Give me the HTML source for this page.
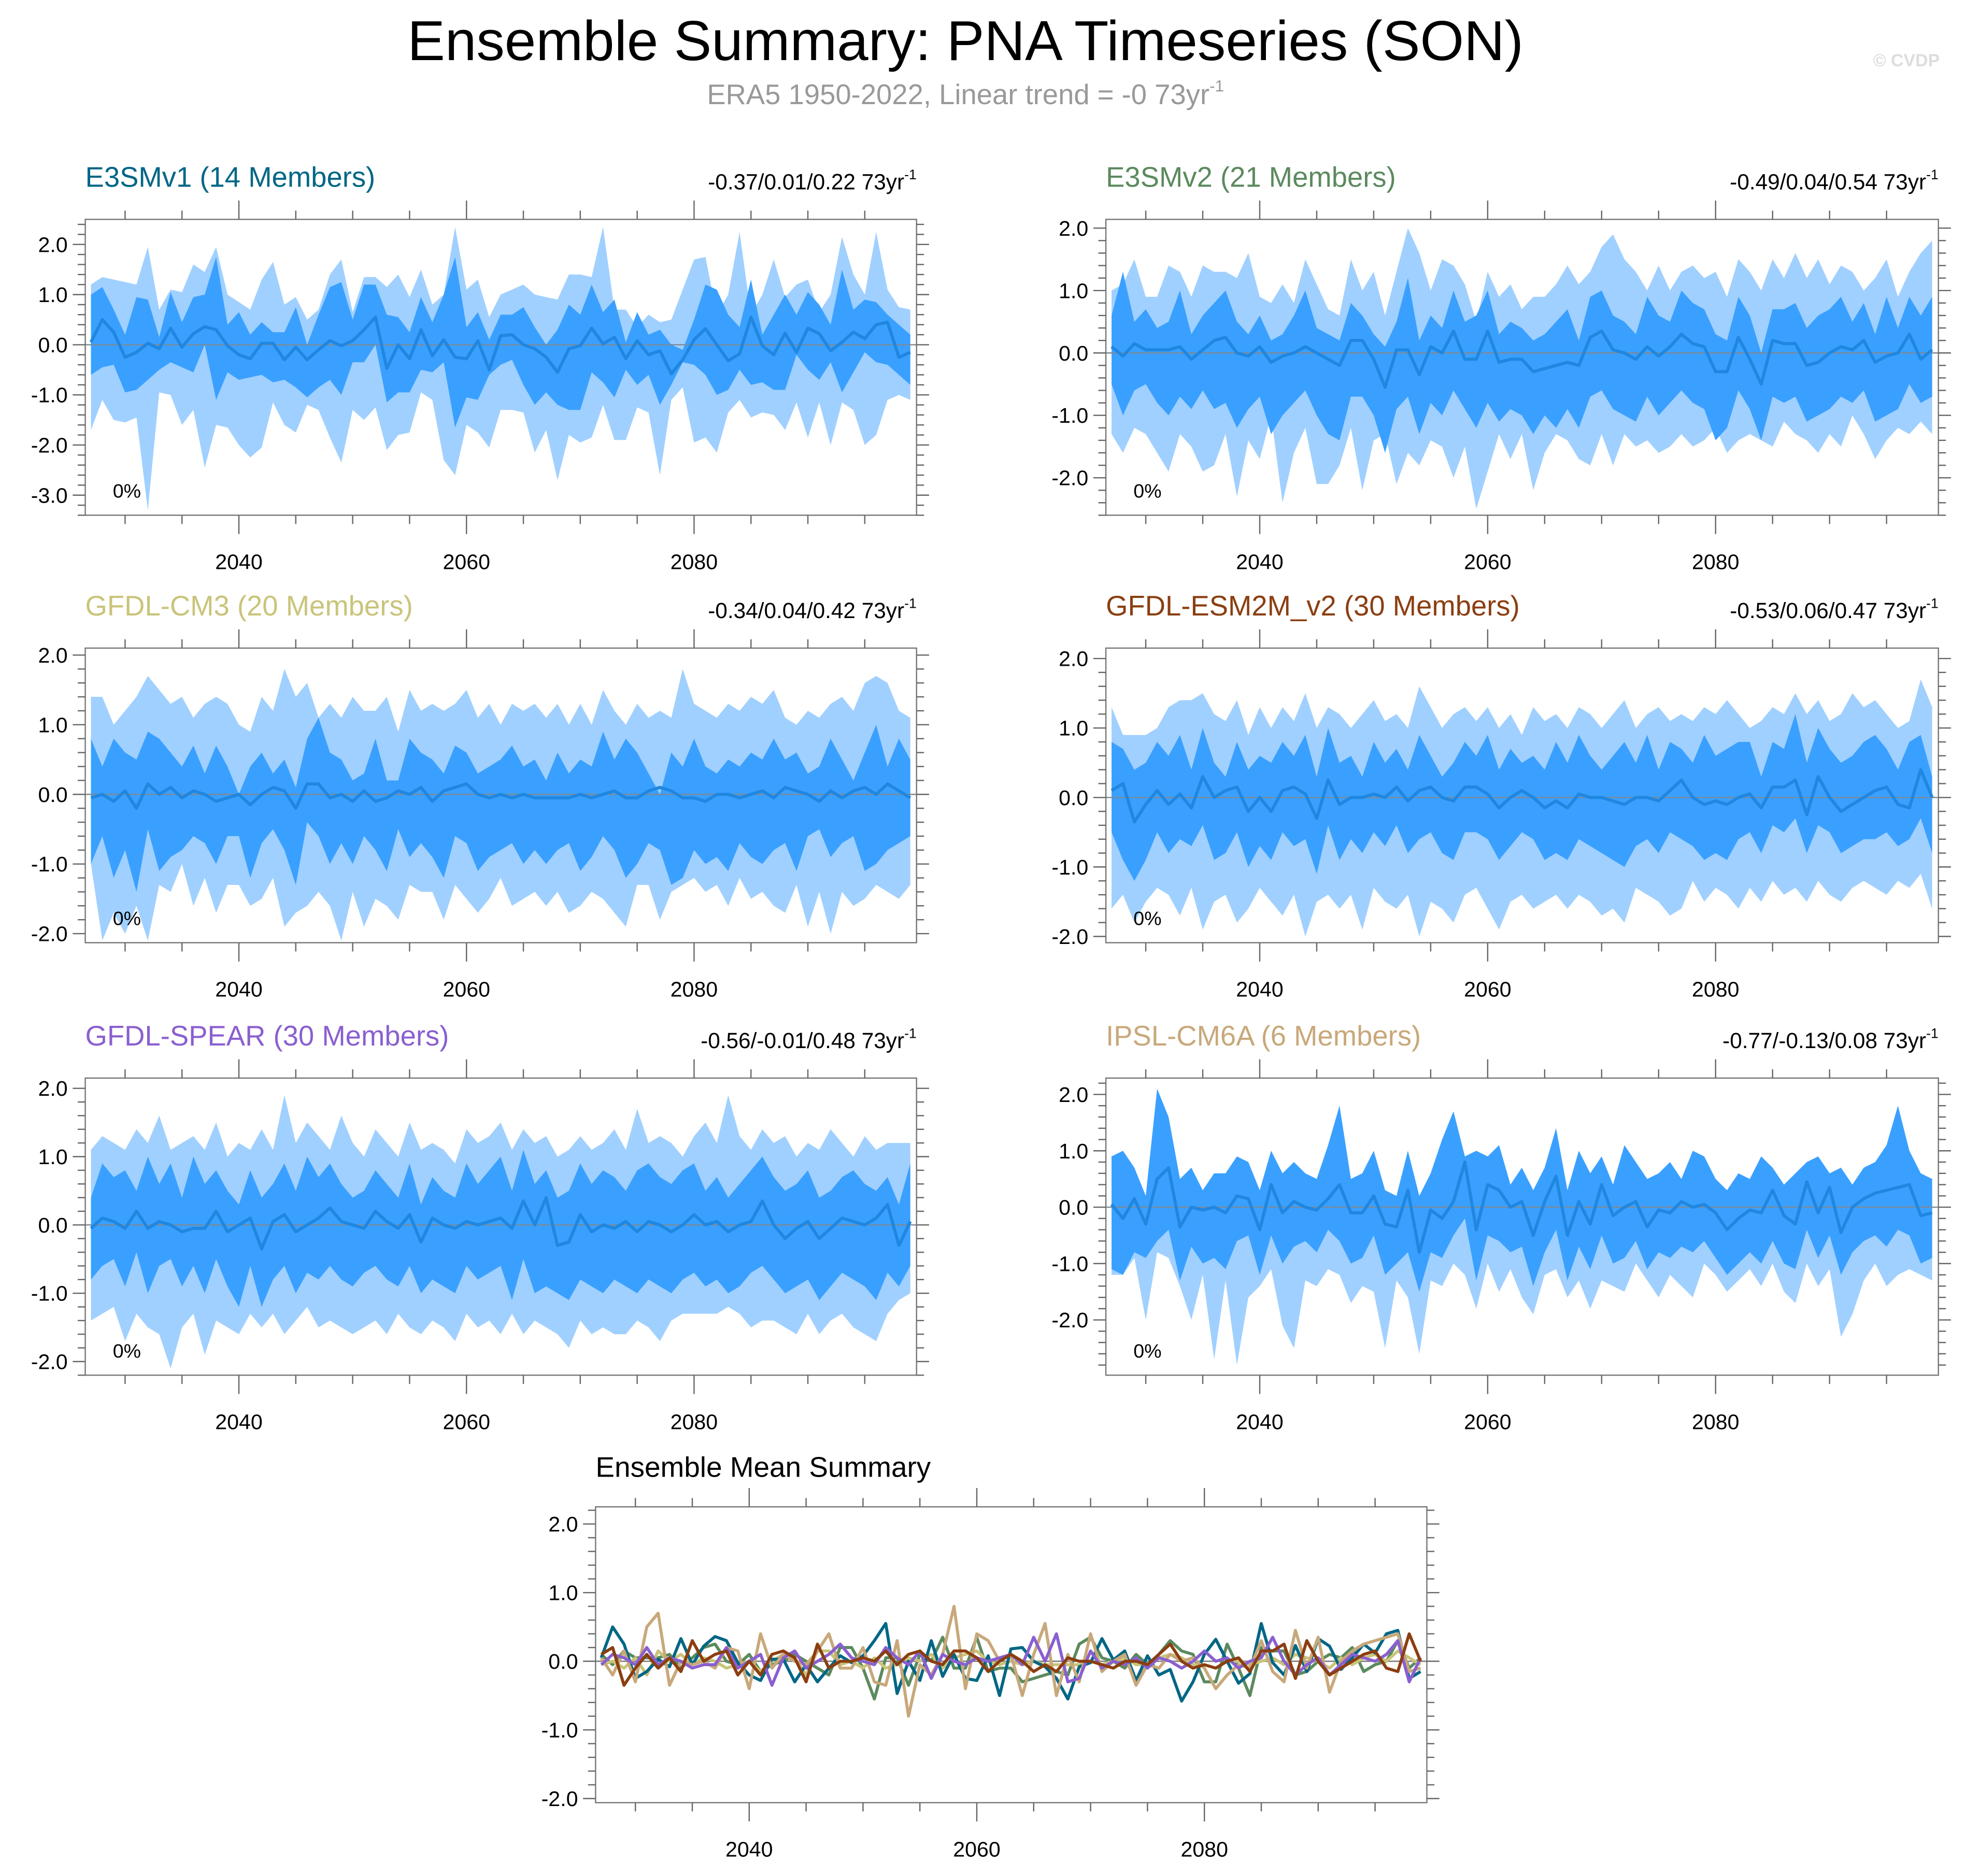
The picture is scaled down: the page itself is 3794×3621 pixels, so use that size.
<!DOCTYPE html>
<html><head><meta charset="utf-8"><style>
html,body{margin:0;padding:0;background:#fff;}
svg{display:block;font-family:"Liberation Sans",sans-serif;}
</style></head><body>
<svg id="chart" xmlns="http://www.w3.org/2000/svg" width="3794" height="3621" viewBox="0 0 1568 1496.5">
<rect x="0" y="0" width="1568" height="1496.5" fill="#fff"/>
<text x="770" y="48" font-size="45" text-anchor="middle" fill="#000">Ensemble Summary: PNA Timeseries (SON)</text>
<text x="770" y="83" font-size="22.5" text-anchor="middle" fill="#999">ERA5 1950-2022, Linear trend = -0 73yr<tspan dy="-10" font-size="13">-1</tspan></text>
<text x="1547" y="53" font-size="14" font-weight="bold" text-anchor="end" fill="#ddd">© CVDP</text>
<g id="panels"></g>
</svg>
<script>
const startYear = 2027;

const e3smv1Mean = [0.05,0.5,0.25,-0.25,-0.15,0.03,-0.08,0.33,-0.05,0.22, 0.36,0.3,-0.02,-0.2,-0.28,0.03,0.03,-0.3,-0.05,-0.3, -0.1,0.08,-0.02,0.08,0.3,0.55,-0.47,0.0,-0.28,0.3, -0.22,0.1,-0.25,-0.28,0.08,-0.5,0.18,0.2,0.0,-0.08, -0.25,-0.55,-0.08,-0.02,0.33,0.02,0.15,-0.28,0.08,-0.2, -0.12,-0.58,-0.3,0.1,0.32,0.0,-0.32,-0.18,0.55,-0.02, -0.2,0.23,-0.15,0.33,0.22,-0.12,0.05,0.25,0.12,0.4, 0.45,-0.25,-0.15];
const e3smv1Hi1 = [1.0,1.15,0.7,0.2,0.95,0.9,0.15,1.05,0.45,0.95, 1.0,1.75,0.4,0.65,0.2,0.45,0.25,0.25,0.75,0.0, 0.6,1.15,1.25,0.5,1.2,1.2,0.6,0.55,0.25,0.95, 0.45,1.0,1.75,0.35,0.65,0.1,0.6,0.6,0.75,0.35, 0.0,0.3,0.8,0.6,1.2,0.65,0.9,0.05,0.65,0.2, 0.3,0.0,-0.1,0.5,1.2,1.1,0.6,0.35,1.3,0.2, 0.6,1.0,0.6,1.05,0.8,0.4,1.5,0.7,0.9,0.85, 0.6,0.4,0.2];
const e3smv1Lo1 = [-0.6,-0.45,-0.4,-0.95,-0.9,-0.7,-0.5,-0.35,-0.45,-0.55, -0.0,-1.1,-0.55,-0.7,-0.65,-0.6,-0.75,-0.7,-0.85,-1.05, -0.85,-0.7,-1.0,-0.35,-0.35,0.0,-1.15,-0.95,-0.95,-0.5, -0.55,-0.35,-1.65,-1.05,-1.1,-0.6,-0.4,-0.3,-0.8,-1.2, -0.95,-1.2,-1.3,-1.3,-0.55,-0.75,-1.05,-0.5,-0.8,-0.6, -1.2,-0.8,-0.35,-0.4,-0.6,-1.0,-0.9,-0.5,-0.8,-0.75, -0.9,-0.9,-0.2,-0.5,-0.7,-0.35,-0.95,-0.55,-0.15,-0.35, -0.4,-0.6,-0.8];
const e3smv1Hi2 = [1.2,1.35,1.3,1.25,1.2,1.95,0.7,1.1,1.05,1.6, 1.45,1.95,1.0,0.85,0.7,1.3,1.65,0.8,0.95,0.5, 0.7,1.4,1.7,0.65,1.35,1.35,1.15,1.4,0.95,1.5, 0.8,1.0,2.35,1.1,1.3,0.55,1.0,1.1,1.2,1.0, 0.95,0.9,1.4,1.4,1.35,2.35,0.7,0.7,0.35,0.6, 0.45,0.5,1.1,1.7,1.75,0.6,1.0,2.25,0.6,1.0, 1.7,0.95,1.2,1.3,0.65,1.0,2.15,1.4,1.0,2.25, 1.1,0.75,0.7];
const e3smv1Lo2 = [-1.7,-1.1,-1.5,-1.55,-1.45,-3.3,-0.95,-1.0,-1.6,-1.3, -2.45,-1.6,-1.65,-2.0,-2.25,-2.05,-1.15,-1.6,-1.75,-1.2, -1.3,-1.85,-2.35,-1.3,-1.5,-1.25,-2.1,-1.8,-1.75,-0.95, -1.1,-2.3,-2.6,-1.6,-1.75,-2.05,-1.3,-1.3,-1.35,-2.15, -1.7,-2.7,-1.8,-1.95,-1.85,-1.2,-1.9,-1.9,-1.25,-1.35, -2.6,-1.1,-0.85,-1.95,-1.85,-2.15,-1.35,-1.1,-1.45,-1.35, -1.4,-1.7,-1.15,-1.85,-1.15,-2.0,-1.15,-1.3,-2.0,-1.8, -1.1,-1.0,-1.1];

const e3smv2Mean = [0.1,-0.05,0.15,0.05,0.05,0.05,0.1,-0.1,0.05,0.2, 0.25,0.0,-0.05,0.1,-0.15,-0.05,0.0,0.1,0.0,-0.1, -0.2,0.2,0.2,-0.1,-0.55,0.05,0.05,-0.35,0.1,0.0, 0.35,-0.1,-0.1,0.35,-0.15,-0.1,-0.1,-0.3,-0.25,-0.2, -0.15,-0.2,0.25,0.35,0.05,0.0,-0.1,0.1,-0.05,0.1, 0.3,0.15,0.1,-0.3,-0.3,0.25,-0.1,-0.5,0.2,0.15, 0.15,-0.2,-0.15,0.0,0.1,0.05,0.2,-0.15,-0.05,0.0, 0.3,-0.1,0.05];
const e3smv2Hi1 = [0.6,1.3,0.5,0.7,0.4,0.5,1.0,0.3,0.6,0.8, 1.0,0.5,0.3,0.6,0.2,0.3,0.6,1.0,0.4,0.3, 0.2,0.8,0.6,0.3,0.1,0.5,1.2,0.2,0.6,0.4, 1.0,0.5,0.6,1.0,0.3,0.5,0.4,0.2,0.3,0.5, 0.7,0.2,0.9,1.0,0.6,0.5,0.3,0.9,0.6,0.5, 1.0,0.8,0.7,0.3,0.2,0.9,0.6,0.0,0.7,0.7, 0.8,0.4,0.6,0.7,0.9,0.5,0.8,0.3,0.9,0.4, 0.9,0.6,0.9];
const e3smv2Lo1 = [-0.5,-1.0,-0.6,-0.5,-0.8,-1.0,-0.7,-0.9,-0.6,-0.9, -0.8,-1.2,-0.9,-0.7,-1.3,-1.0,-0.8,-0.6,-1.0,-1.3, -1.4,-0.7,-0.7,-1.0,-1.6,-0.9,-0.7,-1.3,-0.8,-1.0, -0.6,-0.9,-1.2,-0.8,-1.1,-0.9,-1.0,-1.3,-1.0,-1.2, -0.9,-1.2,-0.7,-0.6,-0.9,-1.0,-1.1,-0.7,-1.0,-0.8, -0.6,-0.8,-0.9,-1.4,-1.2,-0.6,-0.9,-1.4,-0.7,-0.8, -0.7,-1.1,-1.0,-0.9,-0.7,-0.8,-0.6,-1.1,-1.0,-0.9, -0.5,-0.8,-0.7];
const e3smv2Hi2 = [1.0,1.1,1.5,0.9,0.9,1.4,1.3,0.9,1.4,1.3, 1.3,1.2,1.6,0.9,0.8,1.1,0.8,1.5,1.1,0.7, 0.6,1.5,1.0,1.3,0.6,1.3,2.0,1.6,1.0,1.5, 1.4,1.1,0.5,1.3,0.9,1.1,0.7,0.9,0.9,1.1, 1.4,1.1,1.3,1.7,1.9,1.5,1.3,1.0,1.4,1.0, 1.3,1.4,1.2,1.3,0.9,1.5,1.3,1.0,1.5,1.2, 1.6,1.2,1.5,1.1,1.4,1.3,1.0,1.2,1.5,0.9, 1.3,1.6,1.8];
const e3smv2Lo2 = [-1.3,-1.6,-1.2,-1.3,-1.6,-1.9,-1.3,-1.5,-1.9,-1.8, -1.3,-2.3,-1.4,-1.7,-1.0,-2.4,-1.6,-1.2,-2.1,-2.1, -1.8,-1.2,-2.2,-1.4,-1.3,-2.1,-1.6,-1.8,-1.4,-1.5, -2.0,-1.5,-2.5,-1.9,-1.3,-1.7,-1.3,-2.2,-1.6,-1.3, -1.4,-1.7,-1.8,-1.3,-1.8,-1.3,-1.5,-1.4,-1.6,-1.5, -1.3,-1.5,-1.4,-1.2,-1.6,-1.4,-1.3,-1.4,-1.5,-1.1, -1.3,-1.4,-1.6,-1.3,-1.5,-1.0,-1.3,-1.7,-1.4,-1.2, -1.3,-1.1,-1.3];

const cm3Mean = [-0.05,0.0,-0.1,0.05,-0.2,0.15,0.0,0.1,-0.05,0.05, 0.0,-0.1,-0.05,0.0,-0.15,0.0,0.1,0.05,-0.2,0.15, 0.15,-0.05,0.0,-0.1,0.05,-0.1,-0.05,0.05,0.0,0.1, -0.1,0.05,0.1,0.15,0.0,-0.05,0.0,-0.05,0.0,-0.05, -0.05,-0.05,-0.05,0.0,-0.05,0.0,0.05,-0.05,-0.05,0.05, 0.1,0.05,-0.05,-0.05,-0.1,0.0,0.0,-0.05,0.0,0.05, -0.05,0.1,0.05,0.0,-0.1,0.05,-0.05,0.05,0.1,0.0, 0.15,0.05,-0.05];
const cm3Hi1 = [0.8,0.4,0.8,0.6,0.5,0.9,0.8,0.6,0.4,0.7, 0.3,0.7,0.4,0.0,0.4,0.6,0.3,0.5,0.1,0.8, 1.1,0.6,0.5,0.2,0.3,0.8,0.2,0.2,0.8,0.6, 0.5,0.3,0.7,0.6,0.3,0.4,0.5,0.7,0.4,0.5, 0.2,0.6,0.3,0.5,0.4,0.9,0.5,0.8,0.6,0.3, 0.0,0.6,0.4,0.8,0.4,0.3,0.5,0.4,0.6,0.5, 0.8,0.5,0.6,0.3,0.4,0.8,0.5,0.2,0.6,1.0, 0.4,0.8,0.5];
const cm3Lo1 = [-1.0,-0.6,-1.2,-0.8,-1.4,-0.5,-1.1,-0.9,-0.8,-0.6, -0.7,-1.0,-0.6,-0.6,-1.2,-0.7,-0.5,-0.8,-1.3,-0.4, -0.6,-1.0,-0.7,-1.0,-0.6,-0.8,-1.1,-0.5,-0.9,-0.7, -0.9,-1.2,-0.6,-0.7,-1.1,-0.9,-0.8,-0.7,-1.0,-0.8, -1.0,-0.8,-0.7,-1.1,-0.9,-0.6,-0.8,-1.2,-1.0,-0.7, -0.8,-1.3,-1.2,-0.8,-1.0,-0.9,-1.1,-0.7,-0.9,-1.0, -0.8,-0.7,-1.1,-0.6,-0.5,-0.9,-0.7,-0.6,-1.1,-1.0, -0.8,-0.7,-0.6];
const cm3Hi2 = [1.4,1.4,1.0,1.2,1.4,1.7,1.5,1.3,1.4,1.1, 1.3,1.4,1.3,1.0,0.9,1.4,1.2,1.8,1.4,1.6, 1.1,1.3,1.1,1.4,1.2,1.2,1.4,0.9,1.5,1.2, 1.3,1.2,1.3,1.5,1.1,1.3,1.0,1.3,1.2,1.3, 1.1,1.3,1.0,1.3,1.0,1.5,1.2,1.0,1.3,1.1, 1.2,1.1,1.8,1.3,1.2,1.1,1.3,1.2,1.4,1.3, 1.5,1.1,1.0,1.2,1.1,1.3,1.4,1.2,1.6,1.7, 1.6,1.2,1.1];
const cm3Lo2 = [-1.0,-2.1,-1.7,-2.0,-1.6,-2.1,-1.3,-1.4,-1.0,-1.6, -1.2,-1.7,-1.3,-1.3,-1.6,-1.5,-1.2,-1.9,-1.7,-1.6, -1.4,-1.6,-2.1,-1.4,-1.9,-1.5,-1.6,-1.8,-1.3,-1.4, -1.4,-1.8,-1.3,-1.5,-1.7,-1.5,-1.2,-1.6,-1.5,-1.4, -1.6,-1.4,-1.7,-1.6,-1.4,-1.5,-1.7,-1.9,-1.3,-1.3, -1.8,-1.4,-1.3,-1.2,-1.4,-1.3,-1.6,-1.2,-1.5,-1.4, -1.6,-1.7,-1.3,-1.9,-1.4,-2.0,-1.4,-1.6,-1.5,-1.3, -1.4,-1.5,-1.3];

const esm2mMean = [0.1,0.2,-0.35,-0.1,0.1,-0.1,0.05,-0.15,0.3,0.0, 0.1,0.15,-0.2,0.0,-0.2,0.1,0.15,0.05,-0.3,0.25, -0.1,0.0,0.0,0.05,0.0,0.15,-0.05,0.1,0.15,0.0, -0.05,0.15,0.15,0.05,-0.15,0.0,0.1,0.0,-0.15,-0.05, -0.15,0.05,0.0,0.0,-0.05,-0.1,0.0,0.0,-0.05,0.1, 0.25,0.0,-0.1,-0.05,-0.1,0.0,0.05,-0.15,0.15,0.15, 0.25,-0.25,0.3,0.0,-0.2,-0.1,0.0,0.1,0.15,-0.1, -0.15,0.4,0.0];
const esm2mHi1 = [0.8,0.7,0.4,0.5,0.8,0.6,0.9,0.4,1.0,0.5, 0.3,0.8,0.4,0.6,0.5,0.8,0.6,0.9,0.3,1.0, 0.5,0.6,0.3,0.8,0.5,0.7,0.4,0.9,0.6,0.3, 0.5,0.8,0.6,0.9,0.4,0.7,0.5,0.6,0.4,0.8, 0.5,0.9,0.6,0.4,0.6,0.8,0.5,0.9,0.4,0.8, 0.7,0.5,0.9,0.6,0.7,0.8,0.8,0.3,0.8,0.7, 1.2,0.5,1.0,0.7,0.5,0.6,0.8,0.9,0.7,0.4, 0.8,0.9,0.3];
const esm2mLo1 = [-0.5,-0.9,-1.2,-0.9,-0.5,-0.8,-0.6,-0.7,-0.4,-0.9, -0.8,-0.5,-1.0,-0.7,-0.9,-0.5,-0.7,-0.6,-1.1,-0.4, -0.9,-0.6,-0.8,-0.5,-0.7,-0.4,-0.8,-0.6,-0.5,-0.8, -0.9,-0.5,-0.5,-0.6,-0.9,-0.7,-0.5,-0.6,-0.9,-0.8, -0.9,-0.6,-0.7,-0.8,-0.9,-1.0,-0.7,-0.6,-0.8,-0.5, -0.6,-0.7,-0.9,-0.8,-0.9,-0.6,-0.5,-0.8,-0.4,-0.5, -0.3,-0.8,-0.4,-0.5,-0.8,-0.7,-0.6,-0.6,-0.5,-0.7, -0.6,-0.3,-0.8];
const esm2mHi2 = [1.3,0.9,0.9,0.9,1.0,1.3,1.4,1.4,1.5,1.2, 1.1,1.4,0.9,1.3,1.0,1.3,1.1,1.5,1.0,1.3, 1.2,1.0,1.2,1.4,1.1,1.2,1.0,1.6,1.3,1.0, 1.2,1.3,1.1,1.3,1.0,1.2,0.9,1.3,1.1,1.2, 1.0,1.3,1.2,1.0,1.2,1.4,1.0,1.2,1.3,1.1, 1.2,1.1,1.3,1.2,1.4,1.2,1.0,1.1,1.3,1.2, 1.5,1.2,1.4,1.1,1.2,1.5,1.3,1.4,1.2,1.0, 1.1,1.7,1.3];
const esm2mLo2 = [-1.6,-1.4,-1.8,-1.5,-1.3,-1.4,-1.7,-1.3,-1.9,-1.5, -1.4,-1.8,-1.6,-1.3,-1.5,-1.7,-1.4,-2.0,-1.5,-1.4, -1.6,-1.4,-1.9,-1.3,-1.5,-1.6,-1.4,-2.0,-1.5,-1.6, -1.8,-1.4,-1.3,-1.6,-1.9,-1.5,-1.4,-1.6,-1.5,-1.4, -1.6,-1.4,-1.5,-1.7,-1.6,-1.8,-1.3,-1.4,-1.5,-1.7, -1.6,-1.2,-1.5,-1.3,-1.4,-1.6,-1.3,-1.5,-1.2,-1.4, -1.3,-1.5,-1.2,-1.4,-1.5,-1.3,-1.2,-1.3,-1.4,-1.2, -1.3,-1.1,-1.6];

const spearMean = [-0.05,0.1,0.05,-0.05,0.2,-0.05,0.05,0.0,-0.1,-0.05, -0.05,0.2,-0.1,0.0,0.1,-0.35,0.05,0.15,-0.1,0.0, 0.1,0.25,0.05,0.0,-0.05,0.2,0.05,-0.05,0.15,-0.25, 0.1,0.0,-0.05,0.05,0.0,0.05,0.1,-0.05,0.35,0.0, 0.4,-0.3,-0.25,0.15,-0.1,0.0,-0.05,0.05,-0.1,0.05, 0.0,-0.1,0.0,0.15,0.0,0.05,-0.1,0.0,0.05,0.35, 0.0,-0.2,-0.05,0.05,-0.2,-0.05,0.1,0.05,0.0,0.1, 0.3,-0.3,0.05];
const spearHi1 = [0.4,0.9,0.7,0.8,0.5,1.0,0.6,0.9,0.4,1.0, 0.6,0.8,0.5,0.3,0.8,0.4,0.6,0.9,0.5,1.0, 0.7,0.9,0.6,0.4,0.5,0.8,0.6,0.4,0.9,0.3, 0.7,0.5,0.4,0.9,0.6,0.8,1.0,0.5,1.1,0.6, 0.8,0.4,0.5,0.9,0.6,0.8,0.7,0.5,0.8,0.9, 0.7,0.6,0.8,0.9,0.5,0.7,0.4,0.6,0.8,1.0, 0.7,0.5,0.6,0.8,0.4,0.5,0.7,0.8,0.6,0.5, 0.7,0.3,0.9];
const spearLo1 = [-0.8,-0.6,-0.5,-0.9,-0.4,-1.0,-0.6,-0.5,-0.9,-0.6, -1.0,-0.5,-0.9,-1.2,-0.6,-1.2,-0.8,-0.6,-1.0,-0.7, -0.8,-0.6,-0.8,-0.9,-0.7,-0.6,-0.8,-0.9,-0.6,-1.0, -0.8,-0.9,-1.0,-0.6,-0.8,-0.7,-0.6,-1.1,-0.5,-1.0, -0.9,-1.0,-1.1,-0.8,-0.9,-1.0,-0.8,-0.9,-1.0,-0.8, -0.9,-1.0,-0.8,-0.7,-0.9,-0.8,-1.0,-0.9,-0.7,-0.6, -0.8,-1.0,-0.9,-0.8,-1.1,-0.9,-0.7,-0.8,-0.9,-1.1, -0.7,-0.9,-0.6];
const spearHi2 = [1.1,1.3,1.2,1.1,1.4,1.2,1.6,1.1,1.2,1.3, 1.1,1.5,1.0,1.2,1.1,1.4,1.1,1.9,1.2,1.5, 1.3,1.1,1.6,1.2,1.0,1.4,1.2,1.0,1.5,1.1, 1.2,1.1,0.9,1.4,1.2,1.3,1.5,1.1,1.4,1.2, 1.3,1.0,1.1,1.3,1.1,1.2,1.4,1.1,1.7,1.2, 1.3,1.2,1.0,1.3,1.5,1.2,1.9,1.3,1.1,1.4, 1.2,1.3,1.0,1.2,1.1,1.4,1.2,1.0,1.3,1.1, 1.2,1.2,1.2];
const spearLo2 = [-1.4,-1.3,-1.2,-1.7,-1.3,-1.5,-1.6,-2.1,-1.5,-1.3, -1.9,-1.4,-1.5,-1.6,-1.3,-1.5,-1.3,-1.6,-1.4,-1.2, -1.5,-1.4,-1.5,-1.6,-1.5,-1.4,-1.6,-1.3,-1.5,-1.6, -1.4,-1.5,-1.7,-1.3,-1.5,-1.4,-1.6,-1.3,-1.6,-1.4, -1.5,-1.6,-1.8,-1.4,-1.6,-1.5,-1.6,-1.6,-1.4,-1.5, -1.7,-1.4,-1.3,-1.3,-1.3,-1.3,-1.2,-1.3,-1.5,-1.4, -1.4,-1.5,-1.6,-1.3,-1.6,-1.4,-1.3,-1.5,-1.6,-1.7, -1.3,-1.1,-1.0];

const ipslMean = [0.05,-0.2,0.15,-0.3,0.5,0.7,-0.35,0.0,-0.05,0.0, -0.1,0.2,0.15,-0.4,0.4,-0.1,0.1,0.0,-0.05,0.15, 0.4,-0.1,-0.1,0.2,-0.3,-0.35,0.3,-0.8,-0.05,-0.2, 0.1,0.8,-0.4,0.4,0.3,0.0,0.1,-0.5,0.1,0.55, -0.5,0.1,-0.3,0.4,-0.15,0.0,0.1,-0.35,-0.05,-0.1, 0.1,0.0,0.05,-0.1,-0.4,-0.2,-0.05,-0.1,0.3,-0.15, -0.3,0.45,-0.1,0.35,-0.45,0.0,0.15,0.25,0.3,0.35, 0.4,-0.15,-0.1];
const ipslHi1 = [0.9,1.0,0.7,0.2,2.1,1.6,0.5,0.7,0.3,0.6, 0.6,0.9,0.8,0.3,1.0,0.6,0.8,0.6,0.5,1.1, 1.8,0.5,0.6,1.0,0.3,0.2,1.0,0.2,0.6,1.2, 1.7,0.9,1.0,0.9,1.1,0.4,0.7,0.3,0.7,1.4, 0.3,1.0,0.6,0.9,0.4,1.1,0.8,0.5,0.6,0.8, 0.5,1.0,0.9,0.5,0.3,0.6,0.5,0.9,0.7,0.4, 0.6,0.8,0.9,0.6,0.7,0.4,0.7,0.8,1.1,1.8, 1.0,0.6,0.5];
const ipslLo1 = [-1.1,-1.2,-0.8,-0.9,-0.6,-0.4,-1.3,-0.7,-1.0,-0.9, -1.1,-0.6,-0.5,-1.2,-0.5,-1.0,-0.7,-0.6,-0.8,-0.4, -0.6,-1.0,-0.9,-0.5,-1.2,-1.0,-0.8,-1.5,-0.8,-0.9, -0.5,-0.2,-1.3,-0.5,-0.6,-0.8,-0.7,-1.4,-0.8,-0.4, -1.3,-0.7,-1.1,-0.5,-1.0,-0.9,-0.6,-1.1,-0.8,-0.9, -0.7,-0.8,-0.6,-0.9,-1.2,-1.0,-0.8,-1.0,-0.6,-1.0, -1.1,-0.4,-0.9,-0.5,-1.2,-0.8,-0.6,-0.5,-0.7,-0.4, -0.5,-1.0,-0.9];
const ipslHi2 = [0.9,1.0,0.7,0.2,2.1,1.6,0.5,0.7,0.3,0.6, 0.6,0.9,0.8,0.3,1.0,0.6,0.8,0.6,0.5,1.1, 1.8,0.5,0.6,1.0,0.3,0.2,1.0,0.2,0.6,1.2, 1.7,0.9,1.0,0.9,1.1,0.4,0.7,0.3,0.7,1.4, 0.3,1.0,0.6,0.9,0.4,1.1,0.8,0.5,0.6,0.8, 0.5,1.0,0.9,0.5,0.3,0.6,0.5,0.9,0.7,0.4, 0.6,0.8,0.9,0.6,0.7,0.4,0.7,0.8,1.1,1.8, 1.0,0.6,0.5];
const ipslLo2 = [-1.2,-1.2,-0.9,-2.0,-0.8,-0.9,-1.4,-2.0,-1.2,-2.7, -1.3,-2.8,-1.6,-1.4,-1.1,-2.1,-2.5,-1.3,-1.4,-1.1, -1.2,-1.7,-1.4,-1.5,-2.5,-1.3,-1.6,-2.6,-1.3,-1.4, -1.0,-1.2,-1.8,-1.0,-1.5,-1.1,-1.6,-1.9,-1.2,-1.1, -1.6,-1.3,-1.8,-1.3,-1.4,-1.5,-1.0,-1.3,-1.6,-1.2, -1.4,-1.6,-1.0,-1.2,-1.5,-1.3,-1.1,-1.4,-1.0,-1.5, -1.7,-1.0,-1.4,-1.1,-2.3,-1.9,-1.3,-1.0,-1.4,-1.2, -1.1,-1.2,-1.3];

const xMajorTicks = [2040, 2060, 2080];
const xMinorTicks = [2030, 2035, 2045, 2050, 2055, 2065, 2070, 2075, 2085, 2090, 2095];
const percentLabel = "0%";

const NS = "http://www.w3.org/2000/svg";
const root = document.getElementById('panels');
function mk(tag, attrs, parent){
  const e = document.createElementNS(NS, tag);
  for (const k in attrs) e.setAttribute(k, attrs[k]);
  (parent || root).appendChild(e);
  return e;
}

const panels = [
  {key:'e3smv1', title:'E3SMv1 (14 Members)', color:'#006685', stats:'-0.37/0.01/0.22 73yr', x:68, y:175, w:663, h:236, top:2.5, bot:-3.4, mean:e3smv1Mean, hi1:e3smv1Hi1, lo1:e3smv1Lo1, hi2:e3smv1Hi2, lo2:e3smv1Lo2},
  {key:'e3smv2', title:'E3SMv2 (21 Members)', color:'#5b8a5e', stats:'-0.49/0.04/0.54 73yr', x:882, y:175, w:664, h:236, top:2.14, bot:-2.6, mean:e3smv2Mean, hi1:e3smv2Hi1, lo1:e3smv2Lo1, hi2:e3smv2Hi2, lo2:e3smv2Lo2},
  {key:'gfdl-cm3', title:'GFDL-CM3 (20 Members)', color:'#c9c47a', stats:'-0.34/0.04/0.42 73yr', x:68, y:517, w:663, h:235, top:2.1, bot:-2.13, mean:cm3Mean, hi1:cm3Hi1, lo1:cm3Lo1, hi2:cm3Hi2, lo2:cm3Lo2},
  {key:'gfdl-esm2m', title:'GFDL-ESM2M_v2 (30 Members)', color:'#8b3e10', stats:'-0.53/0.06/0.47 73yr', x:882, y:517, w:664, h:235, top:2.15, bot:-2.09, mean:esm2mMean, hi1:esm2mHi1, lo1:esm2mLo1, hi2:esm2mHi2, lo2:esm2mLo2},
  {key:'gfdl-spear', title:'GFDL-SPEAR (30 Members)', color:'#8a5fd0', stats:'-0.56/-0.01/0.48 73yr', x:68, y:860, w:663, h:237, top:2.15, bot:-2.2, mean:spearMean, hi1:spearHi1, lo1:spearLo1, hi2:spearHi2, lo2:spearLo2},
  {key:'ipsl', title:'IPSL-CM6A (6 Members)', color:'#c8a87a', stats:'-0.77/-0.13/0.08 73yr', x:882, y:860, w:664, h:237, top:2.29, bot:-2.98, mean:ipslMean, hi1:ipslHi1, lo1:ipslLo1, hi2:ipslHi2, lo2:ipslLo2}
];

function axes(p){
  const x0 = 2026.5, x1 = 2099.55;
  const sx = yr => p.x + (yr - x0) / (x1 - x0) * p.w;
  const sy = v => p.y + (p.top - v) / (p.top - p.bot) * p.h;
  return {sx, sy};
}

function drawFrame(p, g, sx, sy){
  const box = mk('rect', {x:p.x, y:p.y, width:p.w, height:p.h, fill:'none', stroke:'#777', 'stroke-width':1}, g);
  
  
  const tg = mk('g', {stroke:'#666', 'stroke-width':1}, g);
  
  
  for (let k = Math.ceil(p.bot*5); k <= Math.floor(p.top*5); k++){
    const v = k/5, y = sy(v), major = (k % 5 === 0), L = major ? 10 : 6;
    mk('line', {x1:p.x-L, y1:y, x2:p.x, y2:y}, tg);
    mk('line', {x1:p.x+p.w, y1:y, x2:p.x+p.w+L, y2:y}, tg);
    if (major){
      const t = mk('text', {x:p.x-14, y:y+6, 'font-size':17, 'text-anchor':'end', fill:'#000', stroke:'none'}, g);
      t.textContent = (v).toFixed(1).replace('-0.0','0.0');
      
      
    }
  }
  xMinorTicks.forEach(yr => {
    const x = sx(yr);
    mk('line', {x1:x, y1:p.y-7, x2:x, y2:p.y}, tg);
    mk('line', {x1:x, y1:p.y+p.h, x2:x, y2:p.y+p.h+7}, tg);
  });
  xMajorTicks.forEach(yr => {
    const x = sx(yr);
    mk('line', {x1:x, y1:p.y-15, x2:x, y2:p.y}, tg);
    mk('line', {x1:x, y1:p.y+p.h, x2:x, y2:p.y+p.h+15}, tg);
    const t = mk('text', {x:x, y:p.y+p.h+43, 'font-size':17, 'text-anchor':'middle', fill:'#000'}, g);
    t.textContent = yr;
    
    
  });
}

function bandPath(hi, lo, sx, sy){
  let d = '';
  hi.forEach((v,i) => { d += (i ? 'L' : 'M') + sx(startYear+i).toFixed(2) + ',' + sy(v).toFixed(2); });
  for (let i = lo.length-1; i >= 0; i--) d += 'L' + sx(startYear+i).toFixed(2) + ',' + sy(lo[i]).toFixed(2);
  return d + 'Z';
}
function linePath(vals, sx, sy){
  return vals.map((v,i) => (i ? 'L' : 'M') + sx(startYear+i).toFixed(2) + ',' + sy(v).toFixed(2)).join('');
}

panels.forEach((p, idx) => {
  const g = mk('g', {});
  
  
  const {sx, sy} = axes(p);
  const cid = 'clip' + idx;
  const cp = mk('clipPath', {id:cid}, g);
  mk('rect', {x:p.x, y:p.y, width:p.w, height:p.h}, cp);
  const data = mk('g', {'clip-path':'url(#'+cid+')'}, g);
  const b2 = mk('path', {d:bandPath(p.hi2, p.lo2, sx, sy), fill:'#a0d0ff'}, data);
  
  
  const b1 = mk('path', {d:bandPath(p.hi1, p.lo1, sx, sy), fill:'#3aa0ff'}, data);
  
  
  const z = mk('line', {x1:p.x, x2:p.x+p.w, y1:sy(0), y2:sy(0), stroke:'#7a8a99', 'stroke-width':1}, data);
  
  
  const ml = mk('path', {d:linePath(p.mean, sx, sy), fill:'none', stroke:'#1f87e0', 'stroke-width':2.5, 'stroke-linejoin':'round'}, data);
  
  
  drawFrame(p, g, sx, sy);
  const t = mk('text', {x:p.x, y:p.y-26, 'font-size':22.5, fill:p.color}, g);
  t.textContent = p.title;
  
  
  const s = mk('text', {x:p.x+p.w, y:p.y-24, 'font-size':17.5, 'text-anchor':'end', fill:'#000'}, g);
  s.textContent = p.stats;
  const sup = mk('tspan', {dy:-8, 'font-size':11}, s);
  sup.textContent = '-1';
  
  
  const pc = mk('text', {x:p.x+22, y:p.y+p.h-14, 'font-size':15.5, fill:'#000'}, g);
  pc.textContent = percentLabel;
  
  
});

// Ensemble mean summary
const sp = {x:475, y:1202, w:663, h:236, top:2.25, bot:-2.06};
const sg = mk('g', {});


const sa = axes(sp);
const scp = mk('clipPath', {id:'clipS'}, sg);
mk('rect', {x:sp.x, y:sp.y, width:sp.w, height:sp.h}, scp);
const sdata = mk('g', {'clip-path':'url(#clipS)'}, sg);
const zl = mk('line', {x1:sp.x, x2:sp.x+sp.w, y1:sa.sy(0), y2:sa.sy(0), stroke:'#888', 'stroke-width':1.2}, sdata);


[panels[1], panels[2], panels[0], panels[5], panels[4], panels[3]].forEach(p => {
  const l = mk('path', {d:linePath(p.mean, sa.sx, sa.sy), fill:'none', stroke:p.color, 'stroke-width':2.4, 'stroke-linejoin':'round'}, sdata);
  
  
});
drawFrame(sp, sg, sa.sx, sa.sy);
const st = mk('text', {x:sp.x, y:sp.y-24, 'font-size':22.7, fill:'#000'}, sg);
st.textContent = 'Ensemble Mean Summary';


</script>
</body></html>
